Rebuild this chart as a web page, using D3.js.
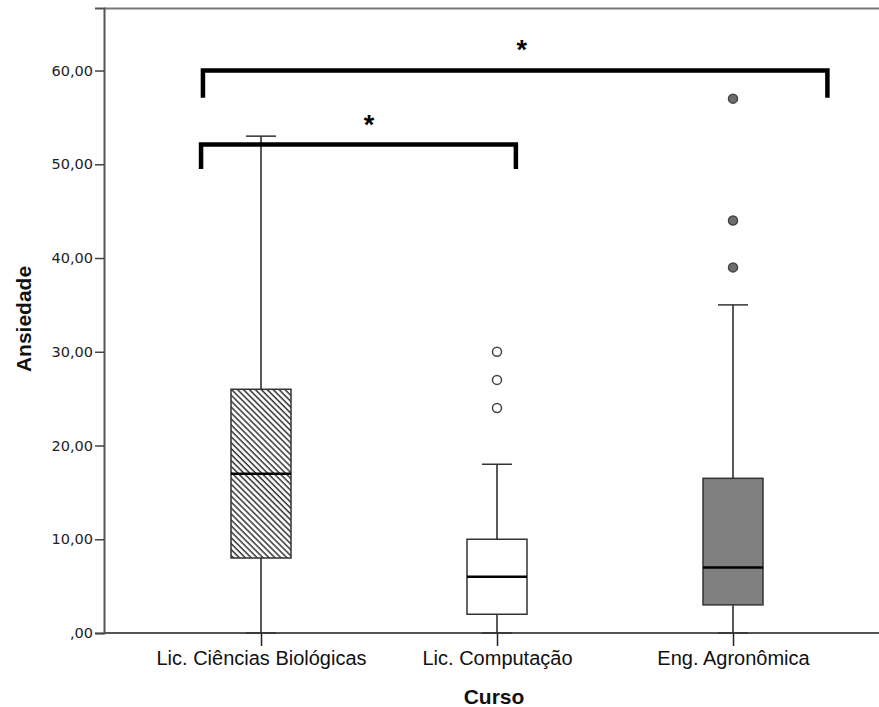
<!DOCTYPE html>
<html>
<head>
<meta charset="utf-8">
<script src="https://cdn.jsdelivr.net/npm/d3@7"></script>
<style>
  body { margin: 0; background: #fff; }
  svg { display: block; }
</style>
</head>
<body>
<svg id="chart"></svg>
<script>
// data
const courses = ["Lic. Ciências Biológicas", "Lic. Computação", "Eng. Agronômica"];
const whiskerLow = [0, 0, 0];
const q1 = [8, 2, 3];
const medians = [17, 6, 7];
const q3 = [26, 10, 16.5];
const whiskerHigh = [53, 18, 35];
const outliers = [[], [24, 27, 30], [39, 44, 57]];
const yTicks = [0, 10, 20, 30, 40, 50, 60];

// significance brackets (course index units, value units)
const brackets = [
  { x0: -0.246, x1: 2.4, level: 60, drop: 2.9, star: 1.105, starY: 63.4 },
  { x0: -0.254, x1: 1.08, level: 52.1, drop: 2.6, star: 0.458, starY: 55.4 }
];

const width = 879, height = 707;
const margin = { top: 8, right: 0, bottom: 74, left: 104 };
const w = width - margin.left - margin.right;
const h = height - margin.top - margin.bottom;

const svg = d3.select("#chart").attr("width", width).attr("height", height);

// hatch pattern for the first box (lines running top-left to bottom-right)
const defs = svg.append("defs");
const pat = defs.append("pattern")
  .attr("id", "hatch")
  .attr("patternUnits", "userSpaceOnUse")
  .attr("width", 4.2).attr("height", 4.2)
  .attr("patternTransform", "rotate(-45)");
pat.append("rect").attr("width", 4.2).attr("height", 4.2).attr("fill", "#fff");
pat.append("line")
  .attr("x1", 1).attr("y1", 0).attr("x2", 1).attr("y2", 4.2)
  .attr("stroke", "#333").attr("stroke-width", 1.5);

const g = svg.append("g").attr("transform", `translate(${margin.left},${margin.top})`);

const x = d3.scalePoint().domain(courses).range([157, 629]);
const xi = d3.scaleLinear().domain([0, 2]).range([157, 629]);
const y = d3.scaleLinear().domain([0, 66.67]).range([h, 0]);

const boxW = 60, capW = 30;
const fills = ["url(#hatch)", "#fff", "#808080"];
const dotFill = ["#fff", "#fff", "#6e6e6e"];

// top frame line
g.append("line")
  .attr("x1", 0).attr("x2", w).attr("y1", 0.5).attr("y2", 0.5)
  .attr("stroke", "#777").attr("stroke-width", 2);

// y axis
const yAxis = g.append("g")
  .call(d3.axisLeft(y).tickValues(yTicks).tickSize(9).tickPadding(2)
    .tickFormat(d => d === 0 ? ",00" : d3.format(".2f")(d).replace(".", ",")));
yAxis.select(".domain").attr("stroke", "#555").attr("stroke-width", 2);
yAxis.selectAll(".tick line").attr("stroke", "#444").attr("stroke-width", 1.5);
yAxis.selectAll("text")
  .attr("font-family", "DejaVu Sans, sans-serif")
  .attr("font-size", 14.5).attr("fill", "#222");

// x axis
const xAxis = g.append("g").attr("transform", `translate(0,${h})`)
  .call(d3.axisBottom(x).tickSize(13).tickPadding(5).tickSizeOuter(0));
xAxis.select(".domain").attr("stroke", "#555").attr("stroke-width", 2)
  .attr("d", `M0,0H${w}`);
xAxis.selectAll(".tick line").attr("stroke", "#222").attr("stroke-width", 1.5);
xAxis.selectAll("text")
  .attr("font-family", "Liberation Sans, Arial, sans-serif")
  .attr("font-size", 20).attr("fill", "#111");

// boxes
courses.forEach((c, i) => {
  const cx = x(c);
  // whiskers, outside the box only
  [[whiskerLow[i], q1[i]], [q3[i], whiskerHigh[i]]].forEach(([a, b]) => {
    g.append("line")
      .attr("x1", cx).attr("x2", cx)
      .attr("y1", y(a)).attr("y2", y(b))
      .attr("stroke", "#222").attr("stroke-width", 1.5);
  });
  // caps
  [whiskerLow[i], whiskerHigh[i]].forEach(v => {
    g.append("line")
      .attr("x1", cx - capW / 2).attr("x2", cx + capW / 2)
      .attr("y1", y(v)).attr("y2", y(v))
      .attr("stroke", "#333").attr("stroke-width", 1.5);
  });
  // box
  g.append("rect")
    .attr("x", cx - boxW / 2).attr("width", boxW)
    .attr("y", y(q3[i])).attr("height", y(q1[i]) - y(q3[i]))
    .attr("fill", fills[i])
    .attr("stroke", "#333").attr("stroke-width", 1.5);
  // median
  g.append("line")
    .attr("x1", cx - boxW / 2).attr("x2", cx + boxW / 2)
    .attr("y1", y(medians[i])).attr("y2", y(medians[i]))
    .attr("stroke", "#000").attr("stroke-width", 2.5);
  // outliers
  g.selectAll(null).data(outliers[i]).enter().append("circle")
    .attr("cx", cx).attr("cy", d => y(d)).attr("r", 4.5)
    .attr("fill", dotFill[i])
    .attr("stroke", "#444").attr("stroke-width", 1.5);
});

// brackets and asterisks
brackets.forEach(b => {
  const top = y(b.level), bot = y(b.level - b.drop);
  g.append("path")
    .attr("d", `M${xi(b.x0)},${bot}V${top}H${xi(b.x1)}V${bot}`)
    .attr("fill", "none").attr("stroke", "#000").attr("stroke-width", 4.5)
    .attr("stroke-linejoin", "miter");
  g.append("text")
    .attr("x", xi(b.star)).attr("y", y(b.starY))
    .attr("text-anchor", "middle").attr("dy", "0.75em")
    .attr("font-family", "Liberation Sans, Arial, sans-serif")
    .attr("font-size", 27).attr("font-weight", "bold")
    .text("*");
});

// axis titles
svg.append("text")
  .attr("transform", `translate(31,${319}) rotate(-90)`)
  .attr("text-anchor", "middle")
  .attr("font-family", "Liberation Sans, Arial, sans-serif")
  .attr("font-size", 21).attr("font-weight", "bold").attr("fill", "#111")
  .text("Ansiedade");

svg.append("text")
  .attr("x", margin.left + x(courses[1]) - 3).attr("y", 704)
  .attr("text-anchor", "middle")
  .attr("font-family", "Liberation Sans, Arial, sans-serif")
  .attr("font-size", 21).attr("font-weight", "bold").attr("fill", "#111")
  .text("Curso");
</script>
</body>
</html>
